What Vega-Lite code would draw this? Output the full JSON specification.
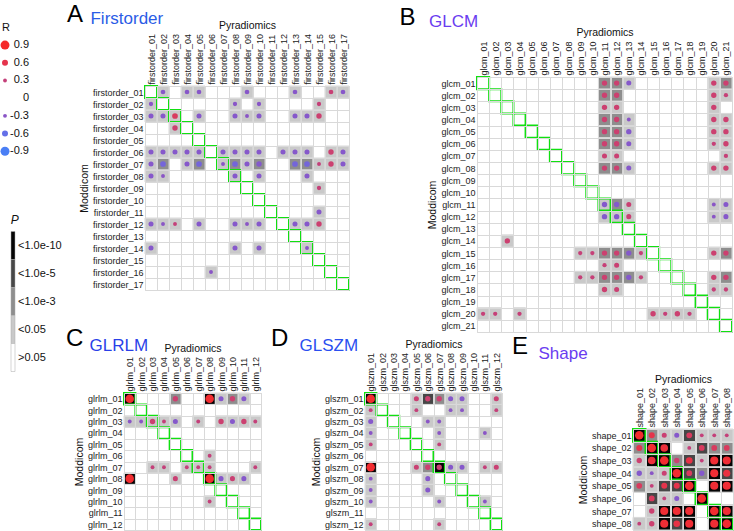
{
 "$schema": "https://vega.github.io/schema/vega-lite/v6.json",
 "padding": {"top": 3, "left": 0, "right": 0, "bottom": 0},
 "background": "white",
 "config": {
  "font": "Liberation Sans",
  "view": {"stroke": "#d9d9d9"},
  "axis": {"grid": true, "gridColor": "#d9d9d9", "tickBand": "extent", "ticks": false, "domain": false, "labelFontSize": 9, "labelColor": "#222222", "labelPadding": 2, "titleFontSize": 10.5, "titleFontWeight": "normal", "titleColor": "#111111", "titlePadding": 3},
  "title": {"anchor": "start", "frame": "bounds", "fontWeight": "normal", "offset": 0}
 },
 "datasets": {
  "Rhead": [{"label": "R"}],
  "Rleg": [
   {"label": "0.9", "R": 0.9}, {"label": "0.6", "R": 0.6}, {"label": "0.3", "R": 0.3}, {"label": "0", "R": 0},
   {"label": "-0.3", "R": -0.3}, {"label": "-0.6", "R": -0.6}, {"label": "-0.9", "R": -0.9}
  ],
  "Pleg": [
   {"P": "<1.0e-10"}, {"P": "<1.0e-5"}, {"P": "<1.0e-3"}, {"P": "<0.05"}, {"P": ">0.05"}
  ],
  "A": [
   {"r":"firstorder_01","c":"firstorder_02","R":-0.4,"P":"<0.05"},
   {"r":"firstorder_01","c":"firstorder_04","R":-0.4,"P":"<0.05"},
   {"r":"firstorder_01","c":"firstorder_05","R":-0.4,"P":"<0.05"},
   {"r":"firstorder_01","c":"firstorder_09","R":-0.4,"P":"<0.05"},
   {"r":"firstorder_01","c":"firstorder_13","R":-0.4,"P":"<0.05"},
   {"r":"firstorder_01","c":"firstorder_16","R":0.4,"P":"<0.05"},
   {"r":"firstorder_01","c":"firstorder_17","R":-0.4,"P":"<0.05"},
   {"r":"firstorder_02","c":"firstorder_01","R":-0.35,"P":"<0.05"},
   {"r":"firstorder_02","c":"firstorder_08","R":-0.35,"P":"<0.05"},
   {"r":"firstorder_02","c":"firstorder_10","R":-0.35,"P":"<0.05"},
   {"r":"firstorder_02","c":"firstorder_15","R":0.35,"P":"<0.05"},
   {"r":"firstorder_03","c":"firstorder_01","R":-0.45,"P":"<0.05"},
   {"r":"firstorder_03","c":"firstorder_02","R":-0.45,"P":"<0.05"},
   {"r":"firstorder_03","c":"firstorder_03","R":0.55,"P":"<0.05"},
   {"r":"firstorder_03","c":"firstorder_05","R":-0.45,"P":"<0.05"},
   {"r":"firstorder_03","c":"firstorder_08","R":-0.45,"P":"<0.05"},
   {"r":"firstorder_03","c":"firstorder_09","R":-0.3,"P":"<0.05"},
   {"r":"firstorder_03","c":"firstorder_10","R":-0.45,"P":"<0.05"},
   {"r":"firstorder_03","c":"firstorder_13","R":-0.45,"P":"<0.05"},
   {"r":"firstorder_03","c":"firstorder_14","R":-0.45,"P":"<0.05"},
   {"r":"firstorder_03","c":"firstorder_15","R":0.5,"P":"<0.05"},
   {"r":"firstorder_04","c":"firstorder_03","R":0.5,"P":"<0.05"},
   {"r":"firstorder_06","c":"firstorder_01","R":-0.45,"P":"<0.05"},
   {"r":"firstorder_06","c":"firstorder_02","R":-0.45,"P":"<0.05"},
   {"r":"firstorder_06","c":"firstorder_03","R":-0.45,"P":"<0.05"},
   {"r":"firstorder_06","c":"firstorder_04","R":-0.45,"P":"<0.05"},
   {"r":"firstorder_06","c":"firstorder_05","R":-0.45,"P":"<0.05"},
   {"r":"firstorder_06","c":"firstorder_07","R":-0.45,"P":"<0.05"},
   {"r":"firstorder_06","c":"firstorder_08","R":-0.45,"P":"<0.05"},
   {"r":"firstorder_06","c":"firstorder_09","R":-0.45,"P":"<0.05"},
   {"r":"firstorder_06","c":"firstorder_10","R":-0.45,"P":"<0.05"},
   {"r":"firstorder_06","c":"firstorder_12","R":-0.45,"P":"<0.05"},
   {"r":"firstorder_06","c":"firstorder_13","R":-0.45,"P":"<0.05"},
   {"r":"firstorder_06","c":"firstorder_14","R":-0.45,"P":"<0.05"},
   {"r":"firstorder_06","c":"firstorder_16","R":0.5,"P":"<0.05"},
   {"r":"firstorder_06","c":"firstorder_17","R":-0.45,"P":"<0.05"},
   {"r":"firstorder_07","c":"firstorder_01","R":-0.45,"P":"<0.05"},
   {"r":"firstorder_07","c":"firstorder_02","R":-0.55,"P":"<1.0e-3"},
   {"r":"firstorder_07","c":"firstorder_04","R":-0.45,"P":"<0.05"},
   {"r":"firstorder_07","c":"firstorder_05","R":-0.55,"P":"<1.0e-3"},
   {"r":"firstorder_07","c":"firstorder_07","R":-0.3,"P":"<0.05"},
   {"r":"firstorder_07","c":"firstorder_08","R":-0.55,"P":"<1.0e-3"},
   {"r":"firstorder_07","c":"firstorder_09","R":-0.45,"P":"<0.05"},
   {"r":"firstorder_07","c":"firstorder_10","R":-0.5,"P":"<1.0e-3"},
   {"r":"firstorder_07","c":"firstorder_13","R":-0.55,"P":"<1.0e-3"},
   {"r":"firstorder_07","c":"firstorder_14","R":-0.55,"P":"<1.0e-3"},
   {"r":"firstorder_07","c":"firstorder_15","R":0.3,"P":"<0.05"},
   {"r":"firstorder_07","c":"firstorder_16","R":0.5,"P":"<0.05"},
   {"r":"firstorder_07","c":"firstorder_17","R":-0.45,"P":"<0.05"},
   {"r":"firstorder_08","c":"firstorder_01","R":-0.45,"P":"<0.05"},
   {"r":"firstorder_08","c":"firstorder_02","R":-0.3,"P":"<0.05"},
   {"r":"firstorder_08","c":"firstorder_08","R":-0.45,"P":"<0.05"},
   {"r":"firstorder_08","c":"firstorder_10","R":-0.45,"P":"<0.05"},
   {"r":"firstorder_08","c":"firstorder_14","R":-0.45,"P":"<0.05"},
   {"r":"firstorder_09","c":"firstorder_15","R":0.35,"P":"<0.05"},
   {"r":"firstorder_11","c":"firstorder_15","R":-0.45,"P":"<0.05"},
   {"r":"firstorder_12","c":"firstorder_01","R":-0.45,"P":"<0.05"},
   {"r":"firstorder_12","c":"firstorder_02","R":-0.3,"P":"<0.05"},
   {"r":"firstorder_12","c":"firstorder_03","R":0.3,"P":"<0.05"},
   {"r":"firstorder_12","c":"firstorder_05","R":-0.45,"P":"<0.05"},
   {"r":"firstorder_12","c":"firstorder_08","R":-0.45,"P":"<0.05"},
   {"r":"firstorder_12","c":"firstorder_09","R":-0.3,"P":"<0.05"},
   {"r":"firstorder_12","c":"firstorder_10","R":-0.45,"P":"<0.05"},
   {"r":"firstorder_12","c":"firstorder_13","R":-0.45,"P":"<0.05"},
   {"r":"firstorder_12","c":"firstorder_14","R":-0.45,"P":"<0.05"},
   {"r":"firstorder_12","c":"firstorder_15","R":0.5,"P":"<0.05"},
   {"r":"firstorder_14","c":"firstorder_01","R":-0.45,"P":"<0.05"},
   {"r":"firstorder_14","c":"firstorder_08","R":-0.45,"P":"<0.05"},
   {"r":"firstorder_14","c":"firstorder_10","R":-0.45,"P":"<0.05"},
   {"r":"firstorder_14","c":"firstorder_14","R":-0.3,"P":"<0.05"},
   {"r":"firstorder_16","c":"firstorder_06","R":-0.3,"P":"<0.05"}
  ],
  "Ad": [
   {"r":"firstorder_01","c":"firstorder_01"},{"r":"firstorder_02","c":"firstorder_02"},{"r":"firstorder_03","c":"firstorder_03"},
   {"r":"firstorder_04","c":"firstorder_04"},{"r":"firstorder_05","c":"firstorder_05"},{"r":"firstorder_06","c":"firstorder_06"},
   {"r":"firstorder_07","c":"firstorder_07"},{"r":"firstorder_08","c":"firstorder_08"},{"r":"firstorder_09","c":"firstorder_09"},
   {"r":"firstorder_10","c":"firstorder_10"},{"r":"firstorder_11","c":"firstorder_11"},{"r":"firstorder_12","c":"firstorder_12"},
   {"r":"firstorder_13","c":"firstorder_13"},{"r":"firstorder_14","c":"firstorder_14"},{"r":"firstorder_15","c":"firstorder_15"},
   {"r":"firstorder_16","c":"firstorder_16"},{"r":"firstorder_17","c":"firstorder_17"}
  ],
  "B": [
   {"r":"glcm_01","c":"glcm_11","R":0.5,"P":"<1.0e-3"},
   {"r":"glcm_01","c":"glcm_12","R":0.5,"P":"<1.0e-3"},
   {"r":"glcm_01","c":"glcm_13","R":-0.45,"P":"<0.05"},
   {"r":"glcm_01","c":"glcm_20","R":0.5,"P":"<0.05"},
   {"r":"glcm_01","c":"glcm_21","R":0.5,"P":"<1.0e-3"},
   {"r":"glcm_02","c":"glcm_11","R":0.5,"P":"<1.0e-3"},
   {"r":"glcm_02","c":"glcm_12","R":0.5,"P":"<1.0e-3"},
   {"r":"glcm_02","c":"glcm_20","R":0.5,"P":"<0.05"},
   {"r":"glcm_02","c":"glcm_21","R":0.35,"P":"<0.05"},
   {"r":"glcm_03","c":"glcm_11","R":0.5,"P":"<0.05"},
   {"r":"glcm_03","c":"glcm_12","R":0.5,"P":"<0.05"},
   {"r":"glcm_03","c":"glcm_20","R":0.5,"P":"<0.05"},
   {"r":"glcm_04","c":"glcm_11","R":0.5,"P":"<1.0e-3"},
   {"r":"glcm_04","c":"glcm_12","R":0.5,"P":"<1.0e-3"},
   {"r":"glcm_04","c":"glcm_13","R":-0.3,"P":"<0.05"},
   {"r":"glcm_04","c":"glcm_20","R":0.5,"P":"<0.05"},
   {"r":"glcm_04","c":"glcm_21","R":0.5,"P":"<0.05"},
   {"r":"glcm_05","c":"glcm_11","R":0.5,"P":"<1.0e-3"},
   {"r":"glcm_05","c":"glcm_12","R":0.5,"P":"<1.0e-3"},
   {"r":"glcm_05","c":"glcm_13","R":-0.5,"P":"<0.05"},
   {"r":"glcm_05","c":"glcm_20","R":0.5,"P":"<0.05"},
   {"r":"glcm_05","c":"glcm_21","R":0.5,"P":"<0.05"},
   {"r":"glcm_06","c":"glcm_11","R":0.5,"P":"<1.0e-3"},
   {"r":"glcm_06","c":"glcm_12","R":0.5,"P":"<1.0e-3"},
   {"r":"glcm_06","c":"glcm_13","R":-0.45,"P":"<0.05"},
   {"r":"glcm_06","c":"glcm_20","R":0.35,"P":"<0.05"},
   {"r":"glcm_06","c":"glcm_21","R":0.5,"P":"<0.05"},
   {"r":"glcm_07","c":"glcm_11","R":0.45,"P":"<0.05"},
   {"r":"glcm_07","c":"glcm_12","R":0.45,"P":"<0.05"},
   {"r":"glcm_07","c":"glcm_21","R":0.35,"P":"<0.05"},
   {"r":"glcm_08","c":"glcm_11","R":0.5,"P":"<1.0e-3"},
   {"r":"glcm_08","c":"glcm_12","R":0.5,"P":"<1.0e-3"},
   {"r":"glcm_08","c":"glcm_13","R":-0.45,"P":"<0.05"},
   {"r":"glcm_08","c":"glcm_20","R":0.5,"P":"<0.05"},
   {"r":"glcm_08","c":"glcm_21","R":0.5,"P":"<0.05"},
   {"r":"glcm_11","c":"glcm_11","R":-0.5,"P":"<0.05"},
   {"r":"glcm_11","c":"glcm_12","R":-0.5,"P":"<1.0e-3"},
   {"r":"glcm_11","c":"glcm_13","R":0.45,"P":"<0.05"},
   {"r":"glcm_11","c":"glcm_20","R":-0.3,"P":"<0.05"},
   {"r":"glcm_11","c":"glcm_21","R":-0.45,"P":"<0.05"},
   {"r":"glcm_12","c":"glcm_11","R":-0.5,"P":"<0.05"},
   {"r":"glcm_12","c":"glcm_12","R":-0.5,"P":"<0.05"},
   {"r":"glcm_12","c":"glcm_13","R":0.45,"P":"<0.05"},
   {"r":"glcm_12","c":"glcm_20","R":-0.3,"P":"<0.05"},
   {"r":"glcm_12","c":"glcm_21","R":-0.45,"P":"<0.05"},
   {"r":"glcm_14","c":"glcm_03","R":0.5,"P":"<0.05"},
   {"r":"glcm_15","c":"glcm_09","R":0.35,"P":"<0.05"},
   {"r":"glcm_15","c":"glcm_10","R":0.35,"P":"<0.05"},
   {"r":"glcm_15","c":"glcm_11","R":0.5,"P":"<1.0e-3"},
   {"r":"glcm_15","c":"glcm_12","R":0.5,"P":"<1.0e-3"},
   {"r":"glcm_15","c":"glcm_13","R":-0.5,"P":"<1.0e-3"},
   {"r":"glcm_15","c":"glcm_14","R":0.35,"P":"<0.05"},
   {"r":"glcm_15","c":"glcm_20","R":0.5,"P":"<0.05"},
   {"r":"glcm_15","c":"glcm_21","R":0.5,"P":"<1.0e-3"},
   {"r":"glcm_16","c":"glcm_11","R":0.35,"P":"<0.05"},
   {"r":"glcm_16","c":"glcm_12","R":0.45,"P":"<0.05"},
   {"r":"glcm_17","c":"glcm_09","R":0.35,"P":"<0.05"},
   {"r":"glcm_17","c":"glcm_10","R":0.35,"P":"<0.05"},
   {"r":"glcm_17","c":"glcm_11","R":0.5,"P":"<1.0e-3"},
   {"r":"glcm_17","c":"glcm_12","R":0.5,"P":"<1.0e-3"},
   {"r":"glcm_17","c":"glcm_13","R":-0.5,"P":"<1.0e-3"},
   {"r":"glcm_17","c":"glcm_14","R":0.35,"P":"<0.05"},
   {"r":"glcm_17","c":"glcm_20","R":0.5,"P":"<0.05"},
   {"r":"glcm_17","c":"glcm_21","R":0.5,"P":"<1.0e-3"},
   {"r":"glcm_18","c":"glcm_11","R":0.5,"P":"<0.05"},
   {"r":"glcm_18","c":"glcm_12","R":0.45,"P":"<0.05"},
   {"r":"glcm_18","c":"glcm_20","R":0.35,"P":"<0.05"},
   {"r":"glcm_18","c":"glcm_21","R":0.35,"P":"<0.05"},
   {"r":"glcm_20","c":"glcm_01","R":0.35,"P":"<0.05"},
   {"r":"glcm_20","c":"glcm_02","R":0.35,"P":"<0.05"},
   {"r":"glcm_20","c":"glcm_04","R":0.35,"P":"<0.05"},
   {"r":"glcm_20","c":"glcm_15","R":0.5,"P":"<0.05"},
   {"r":"glcm_20","c":"glcm_16","R":0.35,"P":"<0.05"},
   {"r":"glcm_20","c":"glcm_17","R":0.5,"P":"<0.05"},
   {"r":"glcm_20","c":"glcm_18","R":0.35,"P":"<0.05"}
  ],
  "Bd": [
   {"r":"glcm_01","c":"glcm_01"},{"r":"glcm_02","c":"glcm_02"},{"r":"glcm_03","c":"glcm_03"},{"r":"glcm_04","c":"glcm_04"},
   {"r":"glcm_05","c":"glcm_05"},{"r":"glcm_06","c":"glcm_06"},{"r":"glcm_07","c":"glcm_07"},{"r":"glcm_08","c":"glcm_08"},
   {"r":"glcm_09","c":"glcm_09"},{"r":"glcm_10","c":"glcm_10"},{"r":"glcm_11","c":"glcm_11"},{"r":"glcm_12","c":"glcm_12"},
   {"r":"glcm_13","c":"glcm_13"},{"r":"glcm_14","c":"glcm_14"},{"r":"glcm_15","c":"glcm_15"},{"r":"glcm_16","c":"glcm_16"},
   {"r":"glcm_17","c":"glcm_17"},{"r":"glcm_18","c":"glcm_18"},{"r":"glcm_19","c":"glcm_19"},{"r":"glcm_20","c":"glcm_20"},
   {"r":"glcm_21","c":"glcm_21"}
  ],
  "C": [
   {"r":"glrlm_01","c":"glrlm_01","R":0.85,"P":"<1.0e-10"},
   {"r":"glrlm_01","c":"glrlm_05","R":0.5,"P":"<1.0e-3"},
   {"r":"glrlm_01","c":"glrlm_08","R":0.85,"P":"<1.0e-10"},
   {"r":"glrlm_01","c":"glrlm_09","R":-0.45,"P":"<0.05"},
   {"r":"glrlm_01","c":"glrlm_10","R":0.5,"P":"<1.0e-3"},
   {"r":"glrlm_01","c":"glrlm_11","R":-0.45,"P":"<0.05"},
   {"r":"glrlm_03","c":"glrlm_01","R":-0.3,"P":"<0.05"},
   {"r":"glrlm_03","c":"glrlm_02","R":-0.3,"P":"<0.05"},
   {"r":"glrlm_03","c":"glrlm_03","R":0.5,"P":"<0.05"},
   {"r":"glrlm_03","c":"glrlm_04","R":0.3,"P":"<0.05"},
   {"r":"glrlm_03","c":"glrlm_05","R":-0.45,"P":"<0.05"},
   {"r":"glrlm_03","c":"glrlm_07","R":0.3,"P":"<0.05"},
   {"r":"glrlm_03","c":"glrlm_09","R":0.5,"P":"<0.05"},
   {"r":"glrlm_03","c":"glrlm_10","R":-0.45,"P":"<0.05"},
   {"r":"glrlm_03","c":"glrlm_11","R":0.5,"P":"<0.05"},
   {"r":"glrlm_03","c":"glrlm_12","R":0.3,"P":"<0.05"},
   {"r":"glrlm_06","c":"glrlm_08","R":0.3,"P":"<0.05"},
   {"r":"glrlm_07","c":"glrlm_03","R":0.3,"P":"<0.05"},
   {"r":"glrlm_07","c":"glrlm_04","R":0.3,"P":"<0.05"},
   {"r":"glrlm_07","c":"glrlm_06","R":0.3,"P":"<0.05"},
   {"r":"glrlm_07","c":"glrlm_07","R":0.3,"P":"<0.05"},
   {"r":"glrlm_07","c":"glrlm_08","R":0.3,"P":"<0.05"},
   {"r":"glrlm_07","c":"glrlm_12","R":0.3,"P":"<0.05"},
   {"r":"glrlm_08","c":"glrlm_01","R":0.85,"P":"<1.0e-10"},
   {"r":"glrlm_08","c":"glrlm_05","R":0.45,"P":"<0.05"},
   {"r":"glrlm_08","c":"glrlm_08","R":0.85,"P":"<1.0e-10"},
   {"r":"glrlm_08","c":"glrlm_09","R":-0.45,"P":"<0.05"},
   {"r":"glrlm_08","c":"glrlm_10","R":0.45,"P":"<0.05"},
   {"r":"glrlm_08","c":"glrlm_11","R":-0.45,"P":"<0.05"},
   {"r":"glrlm_10","c":"glrlm_08","R":0.3,"P":"<0.05"}
  ],
  "Cd": [
   {"r":"glrlm_01","c":"glrlm_01"},{"r":"glrlm_02","c":"glrlm_02"},{"r":"glrlm_03","c":"glrlm_03"},{"r":"glrlm_04","c":"glrlm_04"},
   {"r":"glrlm_05","c":"glrlm_05"},{"r":"glrlm_06","c":"glrlm_06"},{"r":"glrlm_07","c":"glrlm_07"},{"r":"glrlm_08","c":"glrlm_08"},
   {"r":"glrlm_09","c":"glrlm_09"},{"r":"glrlm_10","c":"glrlm_10"},{"r":"glrlm_11","c":"glrlm_11"},{"r":"glrlm_12","c":"glrlm_12"}
  ],
  "D": [
   {"r":"glszm_01","c":"glszm_01","R":0.85,"P":"<1.0e-10"},
   {"r":"glszm_01","c":"glszm_05","R":0.45,"P":"<0.05"},
   {"r":"glszm_01","c":"glszm_06","R":0.5,"P":"<1.0e-5"},
   {"r":"glszm_01","c":"glszm_07","R":0.5,"P":"<1.0e-3"},
   {"r":"glszm_01","c":"glszm_08","R":-0.45,"P":"<0.05"},
   {"r":"glszm_01","c":"glszm_09","R":-0.45,"P":"<0.05"},
   {"r":"glszm_01","c":"glszm_12","R":0.45,"P":"<0.05"},
   {"r":"glszm_02","c":"glszm_01","R":0.3,"P":"<0.05"},
   {"r":"glszm_02","c":"glszm_05","R":0.3,"P":"<0.05"},
   {"r":"glszm_02","c":"glszm_08","R":-0.3,"P":"<0.05"},
   {"r":"glszm_02","c":"glszm_09","R":-0.3,"P":"<0.05"},
   {"r":"glszm_02","c":"glszm_12","R":0.3,"P":"<0.05"},
   {"r":"glszm_03","c":"glszm_01","R":-0.45,"P":"<0.05"},
   {"r":"glszm_03","c":"glszm_06","R":-0.3,"P":"<0.05"},
   {"r":"glszm_03","c":"glszm_07","R":-0.3,"P":"<0.05"},
   {"r":"glszm_04","c":"glszm_01","R":-0.3,"P":"<0.05"},
   {"r":"glszm_04","c":"glszm_07","R":-0.3,"P":"<0.05"},
   {"r":"glszm_04","c":"glszm_11","R":-0.3,"P":"<0.05"},
   {"r":"glszm_05","c":"glszm_01","R":0.3,"P":"<0.05"},
   {"r":"glszm_05","c":"glszm_07","R":0.3,"P":"<0.05"},
   {"r":"glszm_07","c":"glszm_01","R":0.85,"P":"<1.0e-10"},
   {"r":"glszm_07","c":"glszm_05","R":0.45,"P":"<0.05"},
   {"r":"glszm_07","c":"glszm_06","R":0.5,"P":"<1.0e-3"},
   {"r":"glszm_07","c":"glszm_07","R":0.5,"P":"<1.0e-10"},
   {"r":"glszm_07","c":"glszm_08","R":-0.45,"P":"<0.05"},
   {"r":"glszm_07","c":"glszm_09","R":-0.45,"P":"<0.05"},
   {"r":"glszm_07","c":"glszm_11","R":0.3,"P":"<0.05"},
   {"r":"glszm_07","c":"glszm_12","R":0.45,"P":"<0.05"},
   {"r":"glszm_08","c":"glszm_01","R":-0.3,"P":"<0.05"},
   {"r":"glszm_08","c":"glszm_06","R":-0.45,"P":"<0.05"},
   {"r":"glszm_09","c":"glszm_01","R":-0.3,"P":"<0.05"},
   {"r":"glszm_09","c":"glszm_06","R":-0.45,"P":"<0.05"},
   {"r":"glszm_10","c":"glszm_01","R":-0.3,"P":"<0.05"},
   {"r":"glszm_10","c":"glszm_07","R":-0.3,"P":"<0.05"},
   {"r":"glszm_10","c":"glszm_11","R":-0.3,"P":"<0.05"},
   {"r":"glszm_12","c":"glszm_01","R":0.3,"P":"<0.05"},
   {"r":"glszm_12","c":"glszm_07","R":0.3,"P":"<0.05"}
  ],
  "Dd": [
   {"r":"glszm_01","c":"glszm_01"},{"r":"glszm_02","c":"glszm_02"},{"r":"glszm_03","c":"glszm_03"},{"r":"glszm_04","c":"glszm_04"},
   {"r":"glszm_05","c":"glszm_05"},{"r":"glszm_06","c":"glszm_06"},{"r":"glszm_07","c":"glszm_07"},{"r":"glszm_08","c":"glszm_08"},
   {"r":"glszm_09","c":"glszm_09"},{"r":"glszm_10","c":"glszm_10"},{"r":"glszm_11","c":"glszm_11"},{"r":"glszm_12","c":"glszm_12"}
  ],
  "E": [
   {"r":"shape_01","c":"shape_01","R":0.85,"P":"<1.0e-10"},
   {"r":"shape_01","c":"shape_02","R":0.6,"P":"<1.0e-3"},
   {"r":"shape_01","c":"shape_03","R":0.45,"P":"<0.05"},
   {"r":"shape_01","c":"shape_04","R":-0.45,"P":"<0.05"},
   {"r":"shape_01","c":"shape_05","R":0.55,"P":"<1.0e-5"},
   {"r":"shape_01","c":"shape_06","R":0.3,"P":"<0.05"},
   {"r":"shape_01","c":"shape_07","R":0.3,"P":"<0.05"},
   {"r":"shape_01","c":"shape_08","R":0.3,"P":"<0.05"},
   {"r":"shape_02","c":"shape_01","R":0.6,"P":"<1.0e-3"},
   {"r":"shape_02","c":"shape_02","R":0.85,"P":"<1.0e-10"},
   {"r":"shape_02","c":"shape_03","R":0.75,"P":"<1.0e-10"},
   {"r":"shape_02","c":"shape_05","R":0.3,"P":"<0.05"},
   {"r":"shape_02","c":"shape_06","R":0.55,"P":"<1.0e-5"},
   {"r":"shape_02","c":"shape_07","R":0.55,"P":"<1.0e-3"},
   {"r":"shape_02","c":"shape_08","R":0.55,"P":"<1.0e-3"},
   {"r":"shape_03","c":"shape_01","R":0.5,"P":"<0.05"},
   {"r":"shape_03","c":"shape_02","R":0.75,"P":"<1.0e-10"},
   {"r":"shape_03","c":"shape_03","R":0.85,"P":"<1.0e-10"},
   {"r":"shape_03","c":"shape_04","R":0.5,"P":"<1.0e-3"},
   {"r":"shape_03","c":"shape_05","R":0.65,"P":"<1.0e-5"},
   {"r":"shape_03","c":"shape_06","R":0.3,"P":"<0.05"},
   {"r":"shape_03","c":"shape_07","R":0.8,"P":"<1.0e-10"},
   {"r":"shape_03","c":"shape_08","R":0.8,"P":"<1.0e-10"},
   {"r":"shape_04","c":"shape_01","R":-0.5,"P":"<0.05"},
   {"r":"shape_04","c":"shape_02","R":-0.3,"P":"<0.05"},
   {"r":"shape_04","c":"shape_03","R":0.45,"P":"<0.05"},
   {"r":"shape_04","c":"shape_04","R":0.85,"P":"<1.0e-10"},
   {"r":"shape_04","c":"shape_05","R":0.55,"P":"<1.0e-5"},
   {"r":"shape_04","c":"shape_06","R":-0.5,"P":"<1.0e-3"},
   {"r":"shape_04","c":"shape_07","R":0.8,"P":"<1.0e-10"},
   {"r":"shape_04","c":"shape_08","R":0.7,"P":"<1.0e-5"},
   {"r":"shape_05","c":"shape_01","R":0.55,"P":"<1.0e-3"},
   {"r":"shape_05","c":"shape_02","R":0.3,"P":"<0.05"},
   {"r":"shape_05","c":"shape_03","R":0.6,"P":"<1.0e-5"},
   {"r":"shape_05","c":"shape_04","R":0.6,"P":"<1.0e-5"},
   {"r":"shape_05","c":"shape_05","R":0.85,"P":"<1.0e-10"},
   {"r":"shape_05","c":"shape_07","R":0.8,"P":"<1.0e-10"},
   {"r":"shape_05","c":"shape_08","R":0.8,"P":"<1.0e-10"},
   {"r":"shape_06","c":"shape_02","R":0.55,"P":"<1.0e-5"},
   {"r":"shape_06","c":"shape_03","R":0.3,"P":"<0.05"},
   {"r":"shape_06","c":"shape_04","R":-0.45,"P":"<0.05"},
   {"r":"shape_06","c":"shape_06","R":0.85,"P":"<1.0e-10"},
   {"r":"shape_07","c":"shape_02","R":0.5,"P":"<0.05"},
   {"r":"shape_07","c":"shape_03","R":0.8,"P":"<1.0e-10"},
   {"r":"shape_07","c":"shape_04","R":0.8,"P":"<1.0e-10"},
   {"r":"shape_07","c":"shape_05","R":0.8,"P":"<1.0e-10"},
   {"r":"shape_07","c":"shape_07","R":0.85,"P":"<1.0e-10"},
   {"r":"shape_07","c":"shape_08","R":0.8,"P":"<1.0e-10"},
   {"r":"shape_08","c":"shape_01","R":0.3,"P":"<0.05"},
   {"r":"shape_08","c":"shape_02","R":0.5,"P":"<0.05"},
   {"r":"shape_08","c":"shape_03","R":0.8,"P":"<1.0e-10"},
   {"r":"shape_08","c":"shape_04","R":0.65,"P":"<1.0e-5"},
   {"r":"shape_08","c":"shape_05","R":0.8,"P":"<1.0e-10"},
   {"r":"shape_08","c":"shape_07","R":0.8,"P":"<1.0e-10"},
   {"r":"shape_08","c":"shape_08","R":0.85,"P":"<1.0e-10"}
  ],
  "Ed": [
   {"r":"shape_01","c":"shape_01"},{"r":"shape_02","c":"shape_02"},{"r":"shape_03","c":"shape_03"},{"r":"shape_04","c":"shape_04"},
   {"r":"shape_05","c":"shape_05"},{"r":"shape_06","c":"shape_06"},{"r":"shape_07","c":"shape_07"},{"r":"shape_08","c":"shape_08"}
  ]
 },
 "spacing": 3,
 "hconcat": [
  {
   "spacing": -59.5,
   "columns": 1,
   "align": "none",
   "concat": [
    {"width": 1, "height": 1, "view": {"stroke": null, "fill": "transparent"}, "data": {"values": []}, "mark": "point"},
    {
     "spacing": 53,
     "vconcat": [
      {
       "width": 10, "height": 141.6,
       "view": {"stroke": null, "fill": "transparent"},
       "encoding": {"y": {"field": "label", "type": "nominal", "axis": null, "scale": {"domain": ["R", "0.9", "0.6", "0.3", "0", "-0.3", "-0.6", "-0.9"], "paddingInner": 0, "paddingOuter": 0}}},
       "layer": [
        {"data": {"name": "Rleg"}, "mark": {"type": "circle", "opacity": 1},
         "encoding": {
          "color": {"field": "R", "type": "quantitative", "legend": null, "scale": {"domain": [-0.9, -0.6, -0.5, -0.3, 0, 0.3, 0.5, 0.6, 0.9], "range": ["#4a7ff5", "#6470e8", "#8459cc", "#8a55c6", "#a84aa0", "#c4407a", "#cc4070", "#e5344c", "#f52a2a"], "interpolate": "rgb"}},
          "size": {"field": "R", "type": "quantitative", "legend": null, "scale": {"domain": [-1, -0.6, -0.3, 0, 0.3, 0.6, 1], "range": [95, 36, 15, 0, 15, 36, 95]}}
         }},
        {"data": {"name": "Rleg"}, "mark": {"type": "text", "align": "right", "dx": 24, "fontSize": 11, "color": "#111111"}, "encoding": {"text": {"field": "label"}}},
        {"data": {"name": "Rhead"}, "mark": {"type": "text", "align": "left", "dx": -3, "dy": 1, "fontSize": 11, "color": "#111111"}, "encoding": {"text": {"field": "label"}}}
       ]
      },
      {
       "spacing": 9,
       "hconcat": [
        {"width": 1, "height": 1, "view": {"stroke": null, "fill": "transparent"}, "data": {"values": []}, "mark": "point"},
        {
         "width": 4, "height": 140,
         "view": {"stroke": null, "fill": "transparent"},
         "title": {"text": "P", "fontSize": 12, "fontStyle": "italic", "offset": 4, "color": "#111111"},
         "data": {"name": "Pleg"},
         "encoding": {"y": {"field": "P", "type": "nominal", "sort": null, "axis": null, "scale": {"paddingInner": 0, "paddingOuter": 0}}},
         "layer": [
          {"mark": {"type": "rect", "stroke": "#aaaaaa", "strokeWidth": 0.5},
           "encoding": {"fill": {"field": "P", "type": "nominal", "legend": null, "scale": {"domain": [">0.05", "<0.05", "<1.0e-3", "<1.0e-5", "<1.0e-10"], "range": ["#ffffff", "#c9c9c9", "#8e8e8e", "#474747", "#050505"]}}}},
          {"mark": {"type": "text", "align": "left", "dx": 5, "fontSize": 11, "color": "#111111"}, "encoding": {"text": {"field": "P"}}}
         ]
        }
       ]
      }
     ]
    }
   ]
  },
  {
   "spacing": -7,
   "vconcat": [
    {
     "spacing": -59,
     "hconcat": [
      {"width": 1, "height": 1, "view": {"stroke": null, "fill": "transparent"}, "data": {"values": []}, "mark": "point"},
      {
       "spacing": 48,
       "hconcat": [
        {
         "title": {"text": "A", "fontSize": 24, "color": "#000000", "dx": -12, "dy": 21.4},
         "spacing": -69,
         "vconcat": [
          {"width": 1, "height": 1, "view": {"stroke": null, "fill": "transparent"}, "data": {"values": []}, "mark": "point"},
          {
           "width": 204, "height": 204,
           "title": {"text": "Firstorder", "fontSize": 17, "color": "#2b5ce6", "dx": 11, "dy": 12},
           "encoding": {
            "x": {"field": "c", "type": "nominal", "scale": {"domain": ["firstorder_01","firstorder_02","firstorder_03","firstorder_04","firstorder_05","firstorder_06","firstorder_07","firstorder_08","firstorder_09","firstorder_10","firstorder_11","firstorder_12","firstorder_13","firstorder_14","firstorder_15","firstorder_16","firstorder_17"], "paddingInner": 0, "paddingOuter": 0}, "axis": {"orient": "top", "labelAngle": -90, "title": "Pyradiomics"}},
            "y": {"field": "r", "type": "nominal", "scale": {"domain": ["firstorder_01","firstorder_02","firstorder_03","firstorder_04","firstorder_05","firstorder_06","firstorder_07","firstorder_08","firstorder_09","firstorder_10","firstorder_11","firstorder_12","firstorder_13","firstorder_14","firstorder_15","firstorder_16","firstorder_17"], "paddingInner": 0, "paddingOuter": 0}, "axis": {"title": "Moddicom"}}
           },
           "layer": [
            {"data": {"name": "A"}, "mark": {"type": "rect", "stroke": "#d9d9d9", "strokeWidth": 1},
             "encoding": {"fill": {"field": "P", "type": "nominal", "legend": null, "scale": {"domain": [">0.05", "<0.05", "<1.0e-3", "<1.0e-5", "<1.0e-10"], "range": ["#ffffff", "#c9c9c9", "#8e8e8e", "#474747", "#050505"]}}}},
            {"data": {"name": "Ad"}, "mark": {"type": "rect", "filled": false, "stroke": "#11e011", "strokeWidth": 2}},
            {"data": {"name": "A"}, "mark": {"type": "circle", "opacity": 1},
             "encoding": {
              "color": {"field": "R", "type": "quantitative", "legend": null, "scale": {"domain": [-0.9, -0.6, -0.5, -0.3, 0, 0.3, 0.5, 0.6, 0.9], "range": ["#4a7ff5", "#6470e8", "#8459cc", "#8a55c6", "#a84aa0", "#c4407a", "#cc4070", "#e5344c", "#f52a2a"], "interpolate": "rgb"}},
              "size": {"field": "R", "type": "quantitative", "legend": null, "scale": {"domain": [-1, -0.6, -0.3, 0, 0.3, 0.6, 1], "range": [95, 36, 15, 0, 15, 36, 95]}}
             }}
           ]
          }
         ]
        },
        {
         "title": {"text": "B", "fontSize": 24, "color": "#000000", "dx": -28, "dy": 21.4},
         "vconcat": [
          {
           "width": 255, "height": 255,
           "title": {"text": "GLCM", "fontSize": 17, "color": "#6a3cf0", "dx": 1, "offset": 2, "dy": 5},
           "encoding": {
            "x": {"field": "c", "type": "nominal", "scale": {"domain": ["glcm_01","glcm_02","glcm_03","glcm_04","glcm_05","glcm_06","glcm_07","glcm_08","glcm_09","glcm_10","glcm_11","glcm_12","glcm_13","glcm_14","glcm_15","glcm_16","glcm_17","glcm_18","glcm_19","glcm_20","glcm_21"], "paddingInner": 0, "paddingOuter": 0}, "axis": {"orient": "top", "labelAngle": -90, "title": "Pyradiomics"}},
            "y": {"field": "r", "type": "nominal", "scale": {"domain": ["glcm_01","glcm_02","glcm_03","glcm_04","glcm_05","glcm_06","glcm_07","glcm_08","glcm_09","glcm_10","glcm_11","glcm_12","glcm_13","glcm_14","glcm_15","glcm_16","glcm_17","glcm_18","glcm_19","glcm_20","glcm_21"], "paddingInner": 0, "paddingOuter": 0}, "axis": {"title": "Moddicom"}}
           },
           "layer": [
            {"data": {"name": "B"}, "mark": {"type": "rect", "stroke": "#d9d9d9", "strokeWidth": 1},
             "encoding": {"fill": {"field": "P", "type": "nominal", "legend": null, "scale": {"domain": [">0.05", "<0.05", "<1.0e-3", "<1.0e-5", "<1.0e-10"], "range": ["#ffffff", "#c9c9c9", "#8e8e8e", "#474747", "#050505"]}}}},
            {"data": {"name": "Bd"}, "mark": {"type": "rect", "filled": false, "stroke": "#11e011", "strokeWidth": 2}},
            {"data": {"name": "B"}, "mark": {"type": "circle", "opacity": 1},
             "encoding": {
              "color": {"field": "R", "type": "quantitative", "legend": null, "scale": {"domain": [-0.9, -0.6, -0.5, -0.3, 0, 0.3, 0.5, 0.6, 0.9], "range": ["#4a7ff5", "#6470e8", "#8459cc", "#8a55c6", "#a84aa0", "#c4407a", "#cc4070", "#e5344c", "#f52a2a"], "interpolate": "rgb"}},
              "size": {"field": "R", "type": "quantitative", "legend": null, "scale": {"domain": [-1, -0.6, -0.3, 0, 0.3, 0.6, 1], "range": [95, 36, 15, 0, 15, 36, 95]}}
             }}
           ]
          }
         ]
        }
       ]
      }
     ]
    },
    {
     "spacing": 7,
     "hconcat": [
      {
       "title": {"text": "C", "fontSize": 24, "color": "#000000", "dx": -8, "dy": 18.4},
       "vconcat": [
        {
         "width": 137, "height": 137,
         "title": {"text": "GLRLM", "fontSize": 17, "color": "#2a3fe8", "dx": 15, "dy": 16},
         "encoding": {
          "x": {"field": "c", "type": "nominal", "scale": {"domain": ["glrlm_01","glrlm_02","glrlm_03","glrlm_04","glrlm_05","glrlm_06","glrlm_07","glrlm_08","glrlm_09","glrlm_10","glrlm_11","glrlm_12"], "paddingInner": 0, "paddingOuter": 0}, "axis": {"orient": "top", "labelAngle": -90, "title": "Pyradiomics"}},
          "y": {"field": "r", "type": "nominal", "scale": {"domain": ["glrlm_01","glrlm_02","glrlm_03","glrlm_04","glrlm_05","glrlm_06","glrlm_07","glrlm_08","glrlm_09","glrlm_10","glrlm_11","glrlm_12"], "paddingInner": 0, "paddingOuter": 0}, "axis": {"title": "Moddicom"}}
         },
         "layer": [
          {"data": {"name": "C"}, "mark": {"type": "rect", "stroke": "#d9d9d9", "strokeWidth": 1},
           "encoding": {"fill": {"field": "P", "type": "nominal", "legend": null, "scale": {"domain": [">0.05", "<0.05", "<1.0e-3", "<1.0e-5", "<1.0e-10"], "range": ["#ffffff", "#c9c9c9", "#8e8e8e", "#474747", "#050505"]}}}},
          {"data": {"name": "Cd"}, "mark": {"type": "rect", "filled": false, "stroke": "#11e011", "strokeWidth": 2}},
          {"data": {"name": "C"}, "mark": {"type": "circle", "opacity": 1},
           "encoding": {
            "color": {"field": "R", "type": "quantitative", "legend": null, "scale": {"domain": [-0.9, -0.6, -0.5, -0.3, 0, 0.3, 0.5, 0.6, 0.9], "range": ["#4a7ff5", "#6470e8", "#8459cc", "#8a55c6", "#a84aa0", "#c4407a", "#cc4070", "#e5344c", "#f52a2a"], "interpolate": "rgb"}},
            "size": {"field": "R", "type": "quantitative", "legend": null, "scale": {"domain": [-1, -0.6, -0.3, 0, 0.3, 0.6, 1], "range": [95, 36, 15, 0, 15, 36, 95]}}
           }}
         ]
        }
       ]
      },
      {
       "title": {"text": "D", "fontSize": 24, "color": "#000000", "dx": -28, "dy": 18.4},
       "vconcat": [
        {
         "width": 137, "height": 137,
         "title": {"text": "GLSZM", "fontSize": 17, "color": "#2a4ff0", "dx": -12, "dy": 20},
         "encoding": {
          "x": {"field": "c", "type": "nominal", "scale": {"domain": ["glszm_01","glszm_02","glszm_03","glszm_04","glszm_05","glszm_06","glszm_07","glszm_08","glszm_09","glszm_10","glszm_11","glszm_12"], "paddingInner": 0, "paddingOuter": 0}, "axis": {"orient": "top", "labelAngle": -90, "title": "Pyradiomics"}},
          "y": {"field": "r", "type": "nominal", "scale": {"domain": ["glszm_01","glszm_02","glszm_03","glszm_04","glszm_05","glszm_06","glszm_07","glszm_08","glszm_09","glszm_10","glszm_11","glszm_12"], "paddingInner": 0, "paddingOuter": 0}, "axis": {"title": "Moddicom"}}
         },
         "layer": [
          {"data": {"name": "D"}, "mark": {"type": "rect", "stroke": "#d9d9d9", "strokeWidth": 1},
           "encoding": {"fill": {"field": "P", "type": "nominal", "legend": null, "scale": {"domain": [">0.05", "<0.05", "<1.0e-3", "<1.0e-5", "<1.0e-10"], "range": ["#ffffff", "#c9c9c9", "#8e8e8e", "#474747", "#050505"]}}}},
          {"data": {"name": "Dd"}, "mark": {"type": "rect", "filled": false, "stroke": "#11e011", "strokeWidth": 2}},
          {"data": {"name": "D"}, "mark": {"type": "circle", "opacity": 1},
           "encoding": {
            "color": {"field": "R", "type": "quantitative", "legend": null, "scale": {"domain": [-0.9, -0.6, -0.5, -0.3, 0, 0.3, 0.5, 0.6, 0.9], "range": ["#4a7ff5", "#6470e8", "#8459cc", "#8a55c6", "#a84aa0", "#c4407a", "#cc4070", "#e5344c", "#f52a2a"], "interpolate": "rgb"}},
            "size": {"field": "R", "type": "quantitative", "legend": null, "scale": {"domain": [-1, -0.6, -0.3, 0, 0.3, 0.6, 1], "range": [95, 36, 15, 0, 15, 36, 95]}}
           }}
         ]
        }
       ]
      },
      {
       "title": {"text": "E", "fontSize": 24, "color": "#000000", "dx": -26, "dy": 18.4},
       "spacing": -50,
       "vconcat": [
        {"width": 1, "height": 1, "view": {"stroke": null, "fill": "transparent"}, "data": {"values": []}, "mark": "point"},
        {
         "width": 100, "height": 101,
         "title": {"text": "Shape", "fontSize": 17, "color": "#6a3cf0", "dx": -40, "offset": 11},
         "encoding": {
          "x": {"field": "c", "type": "nominal", "scale": {"domain": ["shape_01","shape_02","shape_03","shape_04","shape_05","shape_06","shape_07","shape_08"], "paddingInner": 0, "paddingOuter": 0}, "axis": {"orient": "top", "labelAngle": -90, "title": "Pyradiomics"}},
          "y": {"field": "r", "type": "nominal", "scale": {"domain": ["shape_01","shape_02","shape_03","shape_04","shape_05","shape_06","shape_07","shape_08"], "paddingInner": 0, "paddingOuter": 0}, "axis": {"title": "Moddicom"}}
         },
         "layer": [
          {"data": {"name": "E"}, "mark": {"type": "rect", "stroke": "#d9d9d9", "strokeWidth": 1},
           "encoding": {"fill": {"field": "P", "type": "nominal", "legend": null, "scale": {"domain": [">0.05", "<0.05", "<1.0e-3", "<1.0e-5", "<1.0e-10"], "range": ["#ffffff", "#c9c9c9", "#8e8e8e", "#474747", "#050505"]}}}},
          {"data": {"name": "Ed"}, "mark": {"type": "rect", "filled": false, "stroke": "#11e011", "strokeWidth": 2}},
          {"data": {"name": "E"}, "mark": {"type": "circle", "opacity": 1},
           "encoding": {
            "color": {"field": "R", "type": "quantitative", "legend": null, "scale": {"domain": [-0.9, -0.6, -0.5, -0.3, 0, 0.3, 0.5, 0.6, 0.9], "range": ["#4a7ff5", "#6470e8", "#8459cc", "#8a55c6", "#a84aa0", "#c4407a", "#cc4070", "#e5344c", "#f52a2a"], "interpolate": "rgb"}},
            "size": {"field": "R", "type": "quantitative", "legend": null, "scale": {"domain": [-1, -0.6, -0.3, 0, 0.3, 0.6, 1], "range": [95, 36, 15, 0, 15, 36, 95]}}
           }}
         ]
        }
       ]
      }
     ]
    }
   ]
  }
 ]
}
